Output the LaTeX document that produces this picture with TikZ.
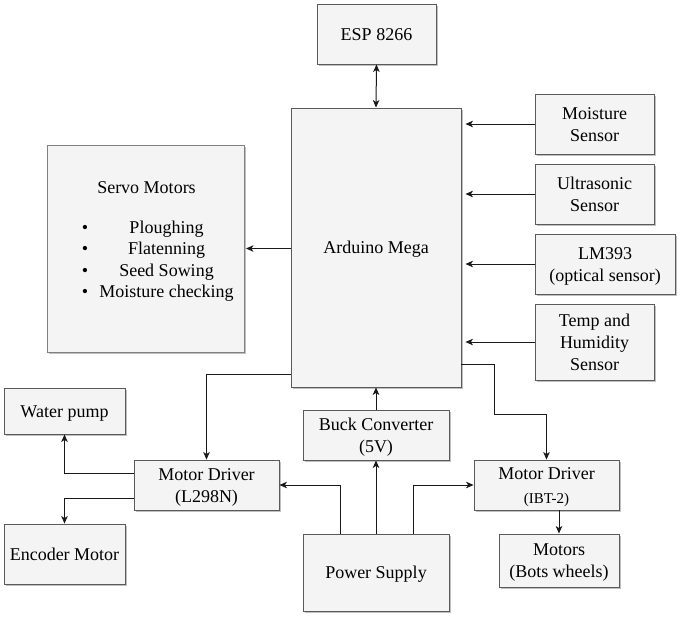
\documentclass[tikz,border=0pt]{standalone}
\usepackage{fontspec}
\setmainfont{Liberation Serif}
\usetikzlibrary{arrows.meta,shadows}
\definecolor{boxfill}{HTML}{F4F4F4}
\definecolor{boxline}{HTML}{5A5A5A}
\newcommand\boxstrut{\rule[-5pt]{0pt}{22pt}}
\tikzset{
  box/.style={draw=boxline, line width=0.9pt, fill=boxfill, inner sep=0pt, align=center,
    font=\rmfamily\fontsize{18}{22}\selectfont,
    execute at end node=\boxstrut,
    drop shadow={shadow xshift=1.6pt, shadow yshift=-1.6pt, fill=black!45, opacity=0.55}},
  txt/.style={inner sep=0pt, anchor=base, font=\rmfamily\fontsize{18}{22}\selectfont},
  tip/.tip={Stealth[length=7.5pt,width=6.5pt,inset=2pt]},
  arr/.style={draw=black!90, line width=1pt, -tip},
  darr/.style={draw=black!90, line width=1pt, tip-tip},
}
\begin{document}
\begin{tikzpicture}[x=1pt,y=-1pt]
\useasboundingbox (0,0) rectangle (681,619);
% boxes
\node[box, minimum width=119pt, minimum height=60pt] (esp) at (376.5,34) {\boxstrut ESP 8266};
\node[box, minimum width=170pt, minimum height=279pt] (ard) at (376,247.5) {\boxstrut Arduino Mega};
\node[box, minimum width=197pt, minimum height=207pt, draw=black!50, execute at end node={}] (servo) at (145.5,248.5) {};
\node[box, minimum width=119pt, minimum height=60pt] (moist) at (594.5,124) {\boxstrut Moisture\\Sensor};
\node[box, minimum width=119pt, minimum height=60pt] (ultra) at (594.5,194) {\boxstrut Ultrasonic\\Sensor};
\node[box, minimum width=140pt, minimum height=60pt] (lm) at (605,264) {\boxstrut LM393\\(optical sensor)};
\node[box, minimum width=119pt, minimum height=76pt] (temp) at (594.5,342) {\boxstrut Temp and\\Humidity\\Sensor};
\node[box, minimum width=121pt, minimum height=46pt] (water) at (64.5,411) {\boxstrut Water pump};
\node[box, minimum width=121pt, minimum height=60pt] (enc) at (64.5,554) {\boxstrut Encoder Motor};
\node[box, minimum width=145pt, minimum height=50pt] (l298) at (206.5,485) {\boxstrut Motor Driver\\(L298N)};
\node[box, minimum width=146pt, minimum height=50pt] (buck) at (376,435) {\boxstrut Buck Converter\\(5V)};
\node[box, minimum width=145pt, minimum height=50pt] (ibt) at (546.5,485) {\boxstrut Motor Driver\\[2pt]{\fontsize{15}{22}\selectfont (IBT-2)}};
\node[box, minimum width=120pt, minimum height=53pt] (motors) at (559,560.5) {\boxstrut Motors\\(Bots wheels)};
\node[box, minimum width=146pt, minimum height=77pt] (power) at (376,572.5) {\boxstrut Power Supply};
% servo contents
\node[txt] (svt) at (146.5,193) {Servo Motors};
\node[txt] (sv1) at (166.5,233) {Ploughing};
\node[txt] (sv2) at (166.5,254.5) {Flatenning};
\node[txt] (sv3) at (166.5,276) {Seed Sowing};
\node[txt] (sv4) at (166.5,297.5) {Moisture checking};
\node[txt] (bu1) at (85,233) {\textbullet};
\node[txt] (bu2) at (85,254.5) {\textbullet};
\node[txt] (bu3) at (85,276) {\textbullet};
\node[txt] (bu4) at (85,297.5) {\textbullet};
% connectors
\draw[darr] (esp.south) -- (ard.north);
\draw[arr, shorten >=4pt] (moist.west) -- (ard.east |- moist.west);
\draw[arr, shorten >=4pt] (ultra.west) -- (ard.east |- ultra.west);
\draw[arr, shorten >=4pt] (lm.west) -- (ard.east |- lm.west);
\draw[arr, shorten >=4pt] (temp.west) -- (ard.east |- temp.west);
\draw[arr, shorten >=1.5pt] (ard.west |- servo.east) -- (servo.east);
\draw[arr] ([yshift=-126.5pt]ard.west) -| (l298.north);
\draw[arr] ([yshift=-116.5pt]ard.east) -| ([xshift=33pt,yshift=-166.5pt]ard.east) -| (ibt.north);
\draw[arr] ([yshift=12pt]l298.west) -| (water.south);
\draw[arr] ([yshift=-13pt]l298.west) -| (enc.north);
\draw[arr] (buck.north) -- (ard.south);
\draw[arr] (power.north) -- (buck.south);
\draw[arr] ([xshift=-36pt]power.north) |- (l298.east);
\draw[arr] ([xshift=37pt]power.north) |- (ibt.west);
\draw[arr] (ibt.south -| motors.north) -- (motors.north);
\end{tikzpicture}
\end{document}
